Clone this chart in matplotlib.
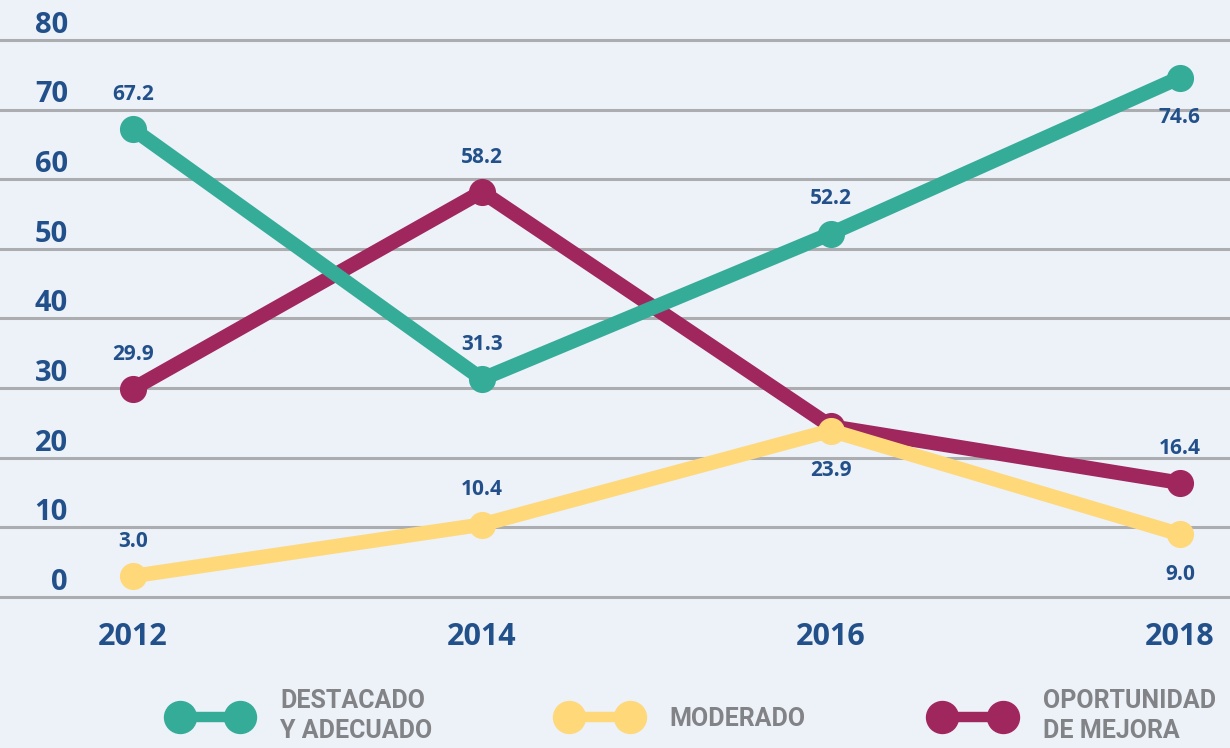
import matplotlib
matplotlib.use('Agg')
import matplotlib.pyplot as plt
from matplotlib.lines import Line2D

years = [2012, 2014, 2016, 2018]
destacado = [67.2, 31.3, 52.2, 74.6]
moderado = [3.0, 10.4, 23.9, 9.0]
oportunidad = [29.9, 58.2, 24.5, 16.4]
yticks = [0, 10, 20, 30, 40, 50, 60, 70, 80]

# which values carry a label and where (+ above / - below / None hidden)
pos_destacado = [1, 1, 1, -1]
pos_moderado = [1, 1, -1, -1]
pos_oportunidad = [1, 1, None, 1]

names = ['DESTACADO\nY ADECUADO', 'MODERADO', 'OPORTUNIDAD\nDE MEJORA']
colors = ['#35ac98', '#ffd87a', '#a0265e']

bg = '#edf1f8'
blue = '#22508a'
grey = '#818386'

fig = plt.figure(figsize=(12.3, 7.48), dpi=100)
fig.patch.set_facecolor(bg)
ax = fig.add_axes([0, 0, 1, 1])
ax.set_facecolor(bg)
ax.set_xlim(2011.238, 2018.287)
ax.set_ylim(-21.69, 85.74)
for s in ax.spines.values():
    s.set_visible(False)
ax.set_yticks(yticks)
ax.set_xticks([])
ax.tick_params(length=0, labelleft=False)
ax.yaxis.grid(True, color='#acadb0', lw=2.2)
ax.set_axisbelow(True)

for t in yticks:
    ax.text(68 / 1230, t + 2.1, str(t), transform=ax.get_yaxis_transform(),
            ha='right', va='center', fontsize=21, fontweight='bold',
            color=blue, family='Open Sans')
for yr in years:
    ax.text(yr, -5.8, str(yr), ha='center', va='center', fontsize=22,
            fontweight='bold', color=blue, family='Open Sans')

# green is drawn over maroon, yellow over both
series = [(oportunidad, pos_oportunidad, colors[2], 2),
          (destacado, pos_destacado, colors[0], 3),
          (moderado, pos_moderado, colors[1], 4)]
for vals, pos, c, z in series:
    ax.plot(years, vals, color=c, lw=10.5, marker='o', ms=18.5,
            solid_capstyle='round', solid_joinstyle='round', zorder=z)
    for yr, v, p in zip(years, vals, pos):
        if p is None:
            continue
        off = 25 if p > 0 else -29
        ax.annotate(f'{v:.1f}', (yr, v), xytext=(0, off),
                    textcoords='offset points', ha='center', va='center',
                    fontsize=15, fontweight='bold', color=blue,
                    family='Open Sans', zorder=6)

handles = [Line2D([], [], color=c, lw=7.5, marker='o', ms=23) for c in colors]
leg = fig.legend(handles, names, ncol=3, numpoints=2, frameon=False,
                 loc='center left', bbox_to_anchor=(172 / 1230, 1 - 716 / 748),
                 borderaxespad=0, borderpad=0, handlelength=3.03,
                 handletextpad=1.3, columnspacing=5.15,
                 prop={'family': 'Roboto', 'weight': 'bold', 'size': 18})
for t in leg.get_texts():
    t.set_color(grey)
    t.set_linespacing(1.3)

fig.savefig('out.png', dpi=100, facecolor=bg)
